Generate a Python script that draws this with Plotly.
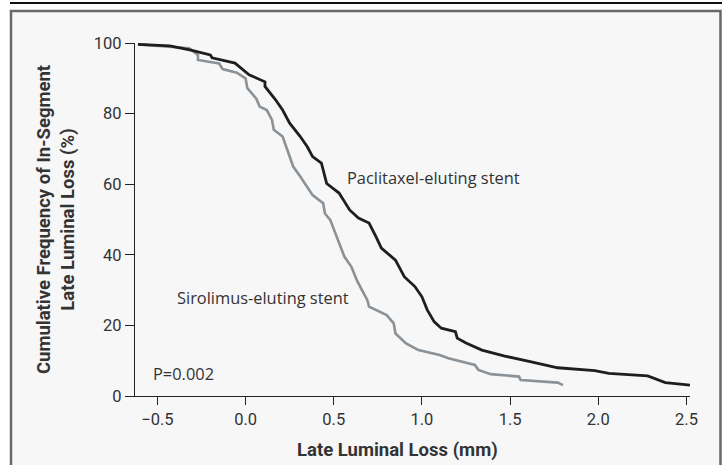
import plotly.graph_objects as go

# Paclitaxel-eluting stent (black) cumulative frequency curve
pac_x = [-0.61, -0.43, -0.31, -0.20, -0.19, -0.06, 0.02, 0.11, 0.11, 0.17, 0.21, 0.25, 0.31, 0.35,
         0.38, 0.43, 0.45, 0.46, 0.53, 0.59, 0.64, 0.70, 0.74, 0.77, 0.85, 0.90, 0.96, 1.00, 1.03,
         1.07, 1.11, 1.19, 1.20, 1.25, 1.34, 1.47, 1.62, 1.77, 1.98, 2.06, 2.28, 2.34, 2.38, 2.52]
pac_y = [99.6, 99.2, 98.0, 96.6, 95.8, 94.3, 91.0, 89.0, 87.7, 83.9, 81.0, 77.3, 73.5, 70.6,
         67.8, 66.0, 62.1, 60.2, 57.5, 52.7, 50.4, 49.0, 45.1, 41.9, 38.5, 33.8, 31.0, 28.1, 24.4,
         21.0, 19.2, 18.2, 16.4, 15.0, 13.0, 11.3, 9.7, 8.0, 7.2, 6.4, 5.7, 4.5, 3.8, 3.1]

# Sirolimus-eluting stent (gray) cumulative frequency curve
sir_x = [-0.61, -0.32, -0.27, -0.27, -0.15, -0.13, -0.05, 0.00, 0.01, 0.06, 0.08, 0.12, 0.15, 0.16,
         0.21, 0.23, 0.25, 0.27, 0.31, 0.38, 0.44, 0.45, 0.48, 0.51, 0.54, 0.56, 0.60, 0.63, 0.66,
         0.69, 0.70, 0.76, 0.80, 0.84, 0.85, 0.91, 0.98, 1.10, 1.15, 1.30, 1.32, 1.39, 1.55, 1.56,
         1.77, 1.80]
sir_y = [99.6, 98.5, 96.6, 95.2, 94.2, 92.6, 91.6, 90.0, 87.2, 84.3, 82.0, 81.0, 78.2, 75.4,
         73.5, 70.6, 67.8, 65.0, 62.2, 56.9, 54.6, 51.7, 49.9, 46.1, 42.3, 39.5, 36.6, 32.9, 30.0,
         27.2, 25.3, 23.9, 22.9, 20.6, 17.7, 14.9, 13.0, 11.6, 10.7, 8.8, 7.4, 6.2, 5.5, 4.5,
         3.8, 3.1]

x_ticks = [-0.5, 0.0, 0.5, 1.0, 1.5, 2.0, 2.5]
x_tick_labels = ["\u22120.5", "0.0", "0.5", "1.0", "1.5", "2.0", "2.5"]
y_ticks = [0, 20, 40, 60, 80, 100]
y_tick_labels = ["0", "20", "40", "60", "80", "100"]

AX = "Roboto, Liberation Sans, sans-serif"
REG = "Open Sans, Noto Sans, sans-serif"
TXT = "#333333"

fig = go.Figure()
fig.add_trace(go.Scatter(x=sir_x, y=sir_y, mode="lines",
                         line=dict(color="#8a9197", width=2.6), showlegend=False))
fig.add_trace(go.Scatter(x=pac_x, y=pac_y, mode="lines",
                         line=dict(color="#1e1e1e", width=2.8), showlegend=False))

L, R, T, B = 135, 32, 43, 69
W, H = 722, 465
pw, ph = W - L - R, H - T - B


def px(xp):
    return (xp - L) / pw


def py(yp):
    return (H - B - yp) / ph


shapes = [
    dict(type="rect", xref="paper", yref="paper", x0=px(11), x1=px(720.5), y0=py(475), y1=py(11),
         line=dict(color="#686868", width=2.5), fillcolor="#f7f7f7", layer="below"),
    dict(type="line", xref="paper", yref="paper", x0=px(10), x1=px(722), y0=py(3), y1=py(3),
         line=dict(color="#111111", width=2)),
]

fig.update_layout(
    width=W, height=H,
    margin=dict(l=L, r=R, t=T, b=B),
    paper_bgcolor="white",
    plot_bgcolor="rgba(0,0,0,0)",
    shapes=shapes,
    xaxis=dict(range=[-0.627, 2.52], tickvals=x_ticks, ticktext=x_tick_labels,
               showline=True, linecolor="#222", linewidth=1.2, ticks="outside", ticklen=8,
               tickcolor="#222", tickwidth=1.2, showgrid=False, zeroline=False,
               tickfont=dict(family=AX, size=16.5, color=TXT)),
    yaxis=dict(range=[0, 100], tickvals=y_ticks, ticktext=y_tick_labels,
               showline=True, linecolor="#222", linewidth=1.2, ticks="outside", ticklen=9,
               tickcolor="#222", tickwidth=1.2, showgrid=False, zeroline=False,
               tickfont=dict(family=AX, size=16.5, color=TXT),
               title=dict(text="<b>Cumulative Frequency of In-Segment<br>Late Luminal Loss (%)</b>",
                          standoff=14, font=dict(family=AX, size=18.5, color=TXT))),
    annotations=[
        dict(x=px(397), y=py(450), xref="paper", yref="paper", text="<b>Late Luminal Loss (mm)</b>",
             showarrow=False, xanchor="center", yanchor="middle",
             font=dict(family=AX, size=18.5, color=TXT)),
        dict(x=1.065, y=62.0, xref="x", yref="y", text="Paclitaxel-eluting stent", showarrow=False,
             font=dict(family=REG, size=16.4, color=TXT)),
        dict(x=0.099, y=27.8, xref="x", yref="y", text="Sirolimus-eluting stent", showarrow=False,
             font=dict(family=REG, size=16.4, color=TXT)),
        dict(x=-0.537, y=6.5, xref="x", yref="y", text="P=0.002", showarrow=False, xanchor="left",
             font=dict(family=REG, size=16.4, color=TXT)),
    ],
)

fig.write_html("out.html", config={"displayModeBar": False},
               post_script="document.body.style.margin='0';document.body.style.padding='0';")
